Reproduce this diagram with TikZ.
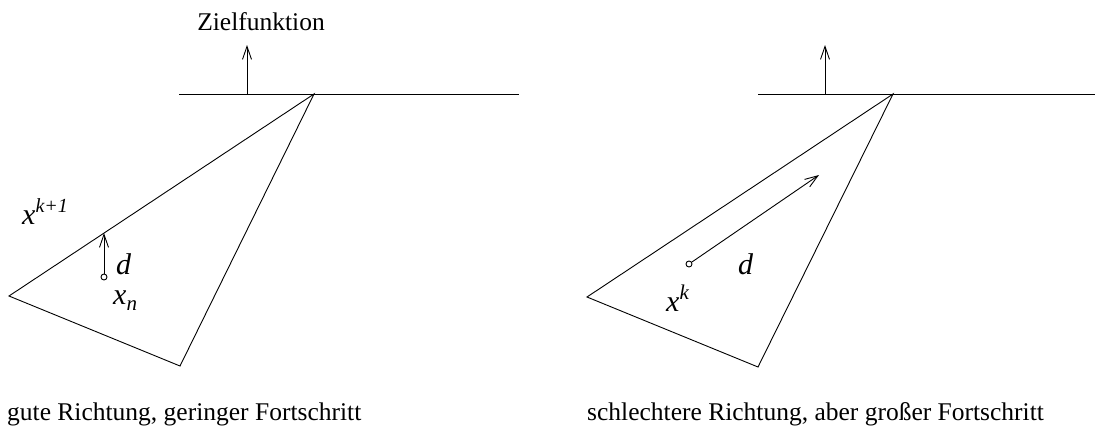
\documentclass[tikz,border=0pt]{standalone}
\usepackage{fontspec}
\setmainfont{Liberation Serif}
\usetikzlibrary{arrows.meta}
\tikzset{
  ln/.style={line width=0.9pt, line join=miter},
  vec/.style={line width=0.9pt, -{Straight Barb[length=13pt,width=9pt,line width=0.9pt]}},
  txt/.style={font=\fontsize{25.5}{30}\selectfont, inner sep=0pt},
  mth/.style={font=\fontsize{30}{32}\selectfont\itshape, inner sep=0pt},
  dot/.style={circle, draw, line width=0.9pt, minimum size=6pt, inner sep=0pt, fill=white}
}
\begin{document}
\begin{tikzpicture}[x=1pt,y=-1pt]
\useasboundingbox (0,0) rectangle (1095,440);
% left panel
\coordinate (la) at (179,94);
\coordinate (lb) at (519,94);
\coordinate (ltop) at (314,94);
\coordinate (lleft) at (9,296);
\coordinate (lbot) at (180,366);
\coordinate (lf0) at (247,94);
\coordinate (lf1) at (247,45);
\draw[ln] (la) -- (lb);
\draw[ln] (ltop) -- (lleft) -- (lbot) -- cycle;
\draw[vec] (lf0) -- (lf1);
\node[txt] (zf) at (261,22) {Zielfunktion};
\node[dot] (ldot) at (104,277) {};
\coordinate (ldend) at (104,233);
\draw[vec] (ldot) -- (ldend);
\node[mth, anchor=base west] (xk1) at (22,224) {x\raisebox{12pt}{\fontsize{20}{22}\selectfont k+1}};
\node[mth, anchor=base west] (ld) at (116,274) {d};
\node[mth, anchor=base west] (xn) at (113,304) {x\raisebox{-6pt}{\fontsize{21}{22}\selectfont n}};
\node[txt, anchor=base west] (lcap) at (7,420) {gute Richtung, geringer Fortschritt};
% right panel
\coordinate (ra) at (758,94);
\coordinate (rb) at (1095,94);
\coordinate (rtop) at (893,94);
\coordinate (rleft) at (587,297);
\coordinate (rbot) at (758,367);
\coordinate (rf0) at (825,94);
\coordinate (rf1) at (825,45);
\draw[ln] (ra) -- (rb);
\draw[ln] (rtop) -- (rleft) -- (rbot) -- cycle;
\draw[vec] (rf0) -- (rf1);
\node[dot] (rdot) at (689,264) {};
\coordinate (rdend) at (819,175);
\draw[vec] (rdot) -- (rdend);
\node[mth, anchor=base west] (rd) at (738,274) {d};
\node[mth, anchor=base west] (xk) at (666,311) {x\raisebox{12pt}{\fontsize{21}{22}\selectfont k}};
\node[txt, anchor=base west] (rcap) at (587,420) {schlechtere Richtung, aber großer Fortschritt};
\end{tikzpicture}
\end{document}
